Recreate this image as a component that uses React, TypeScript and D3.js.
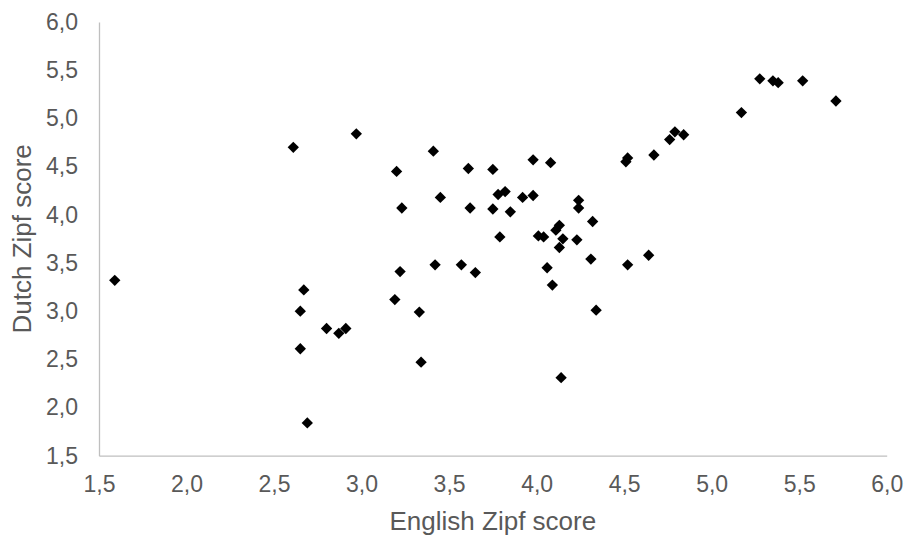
import React, { useEffect, useRef } from 'react';
import * as d3 from 'd3';

// English vs Dutch Zipf scores
const englishZipf = [
  1.59, 2.61, 2.97, 3.41, 3.20, 3.45, 3.23, 5.275, 5.35, 5.38, 5.52, 5.71, 5.17,
  4.79, 4.84, 4.76, 4.67, 4.52, 4.51, 3.61, 3.75, 3.98, 4.08, 3.62, 3.75, 3.78,
  3.82, 3.85, 3.92, 3.98, 4.24, 4.24, 4.32, 3.79, 4.01, 4.04, 4.11, 4.13, 4.15,
  4.13, 4.23, 4.31, 4.52, 4.64, 3.57, 3.65, 4.06, 4.09, 4.34, 4.14, 2.67, 2.65,
  2.80, 2.87, 2.91, 2.65, 2.69, 3.19, 3.22, 3.33, 3.34, 3.42,
];
const dutchZipf = [
  3.32, 4.70, 4.84, 4.66, 4.45, 4.18, 4.07, 5.41, 5.39, 5.37, 5.39, 5.18, 5.06,
  4.86, 4.83, 4.78, 4.62, 4.59, 4.55, 4.48, 4.47, 4.57, 4.54, 4.07, 4.06, 4.21,
  4.24, 4.03, 4.18, 4.20, 4.15, 4.07, 3.93, 3.77, 3.78, 3.77, 3.84, 3.89, 3.75,
  3.66, 3.74, 3.54, 3.48, 3.58, 3.48, 3.40, 3.45, 3.27, 3.01, 2.31, 3.22, 3.00,
  2.82, 2.77, 2.82, 2.61, 1.84, 3.12, 3.41, 2.99, 2.47, 3.48,
];
const xTicks = [1.5, 2.0, 2.5, 3.0, 3.5, 4.0, 4.5, 5.0, 5.5, 6.0];
const yTicks = [1.5, 2.0, 2.5, 3.0, 3.5, 4.0, 4.5, 5.0, 5.5, 6.0];
const xTitle = 'English Zipf score';
const yTitle = 'Dutch Zipf score';

const W = 907;
const H = 536;
const left = 99, right = 886.7, top = 22, bottom = 455.7;

const nl = d3.formatLocale({ decimal: ',', thousands: '.', grouping: [3], currency: ['€', ''] });
const fmt = nl.format('.1f');

export default function App() {
  const ref = useRef<SVGSVGElement>(null);

  useEffect(() => {
    const svg = d3.select(ref.current);
    svg.selectAll('*').remove();

    const x = d3.scaleLinear().domain([1.5, 6]).range([left, right]);
    const y = d3.scaleLinear().domain([1.5, 6]).range([bottom, top]);
    const font = 'Liberation Sans, Arial, sans-serif';

    const xAxis = d3.axisBottom(x).tickValues(xTicks).tickFormat((d) => fmt(d as number)).tickSize(0).tickPadding(20);
    const yAxis = d3.axisLeft(y).tickValues(yTicks).tickFormat((d) => fmt(d as number)).tickSize(0).tickPadding(21);

    const gx = svg.append('g').attr('transform', `translate(0,${bottom})`).call(xAxis);
    const gy = svg.append('g').attr('transform', `translate(${left},0)`).call(yAxis);

    [gx, gy].forEach((g) => {
      g.select('.domain').attr('stroke', '#bfbfbf').attr('stroke-width', 1.3);
      g.selectAll('text').attr('fill', '#595959').style('font-family', font).style('font-size', '23px');
    });

    svg.append('text')
      .attr('x', (left + right) / 2)
      .attr('y', 530)
      .attr('text-anchor', 'middle')
      .attr('fill', '#595959')
      .style('font-family', font)
      .style('font-size', '26px')
      .text(xTitle);

    svg.append('text')
      .attr('transform', `translate(31,${(top + bottom) / 2}) rotate(-90)`)
      .attr('text-anchor', 'middle')
      .attr('fill', '#595959')
      .style('font-family', font)
      .style('font-size', '26px')
      .text(yTitle);

    const points = englishZipf.map((e, i) => [e, dutchZipf[i]]);
    const diamond = d3.symbol().type(d3.symbolSquare).size(64);

    svg.append('g')
      .selectAll('path')
      .data(points)
      .enter()
      .append('path')
      .attr('d', diamond)
      .attr('transform', (d) => `translate(${x(d[0])},${y(d[1])}) rotate(45)`)
      .attr('fill', '#000');
  }, []);

  return (
    <div style={{ position: 'absolute', left: 0, top: 0 }}>
      <svg ref={ref} width={W} height={H} style={{ display: 'block', background: '#fff' }} />
    </div>
  );
}
